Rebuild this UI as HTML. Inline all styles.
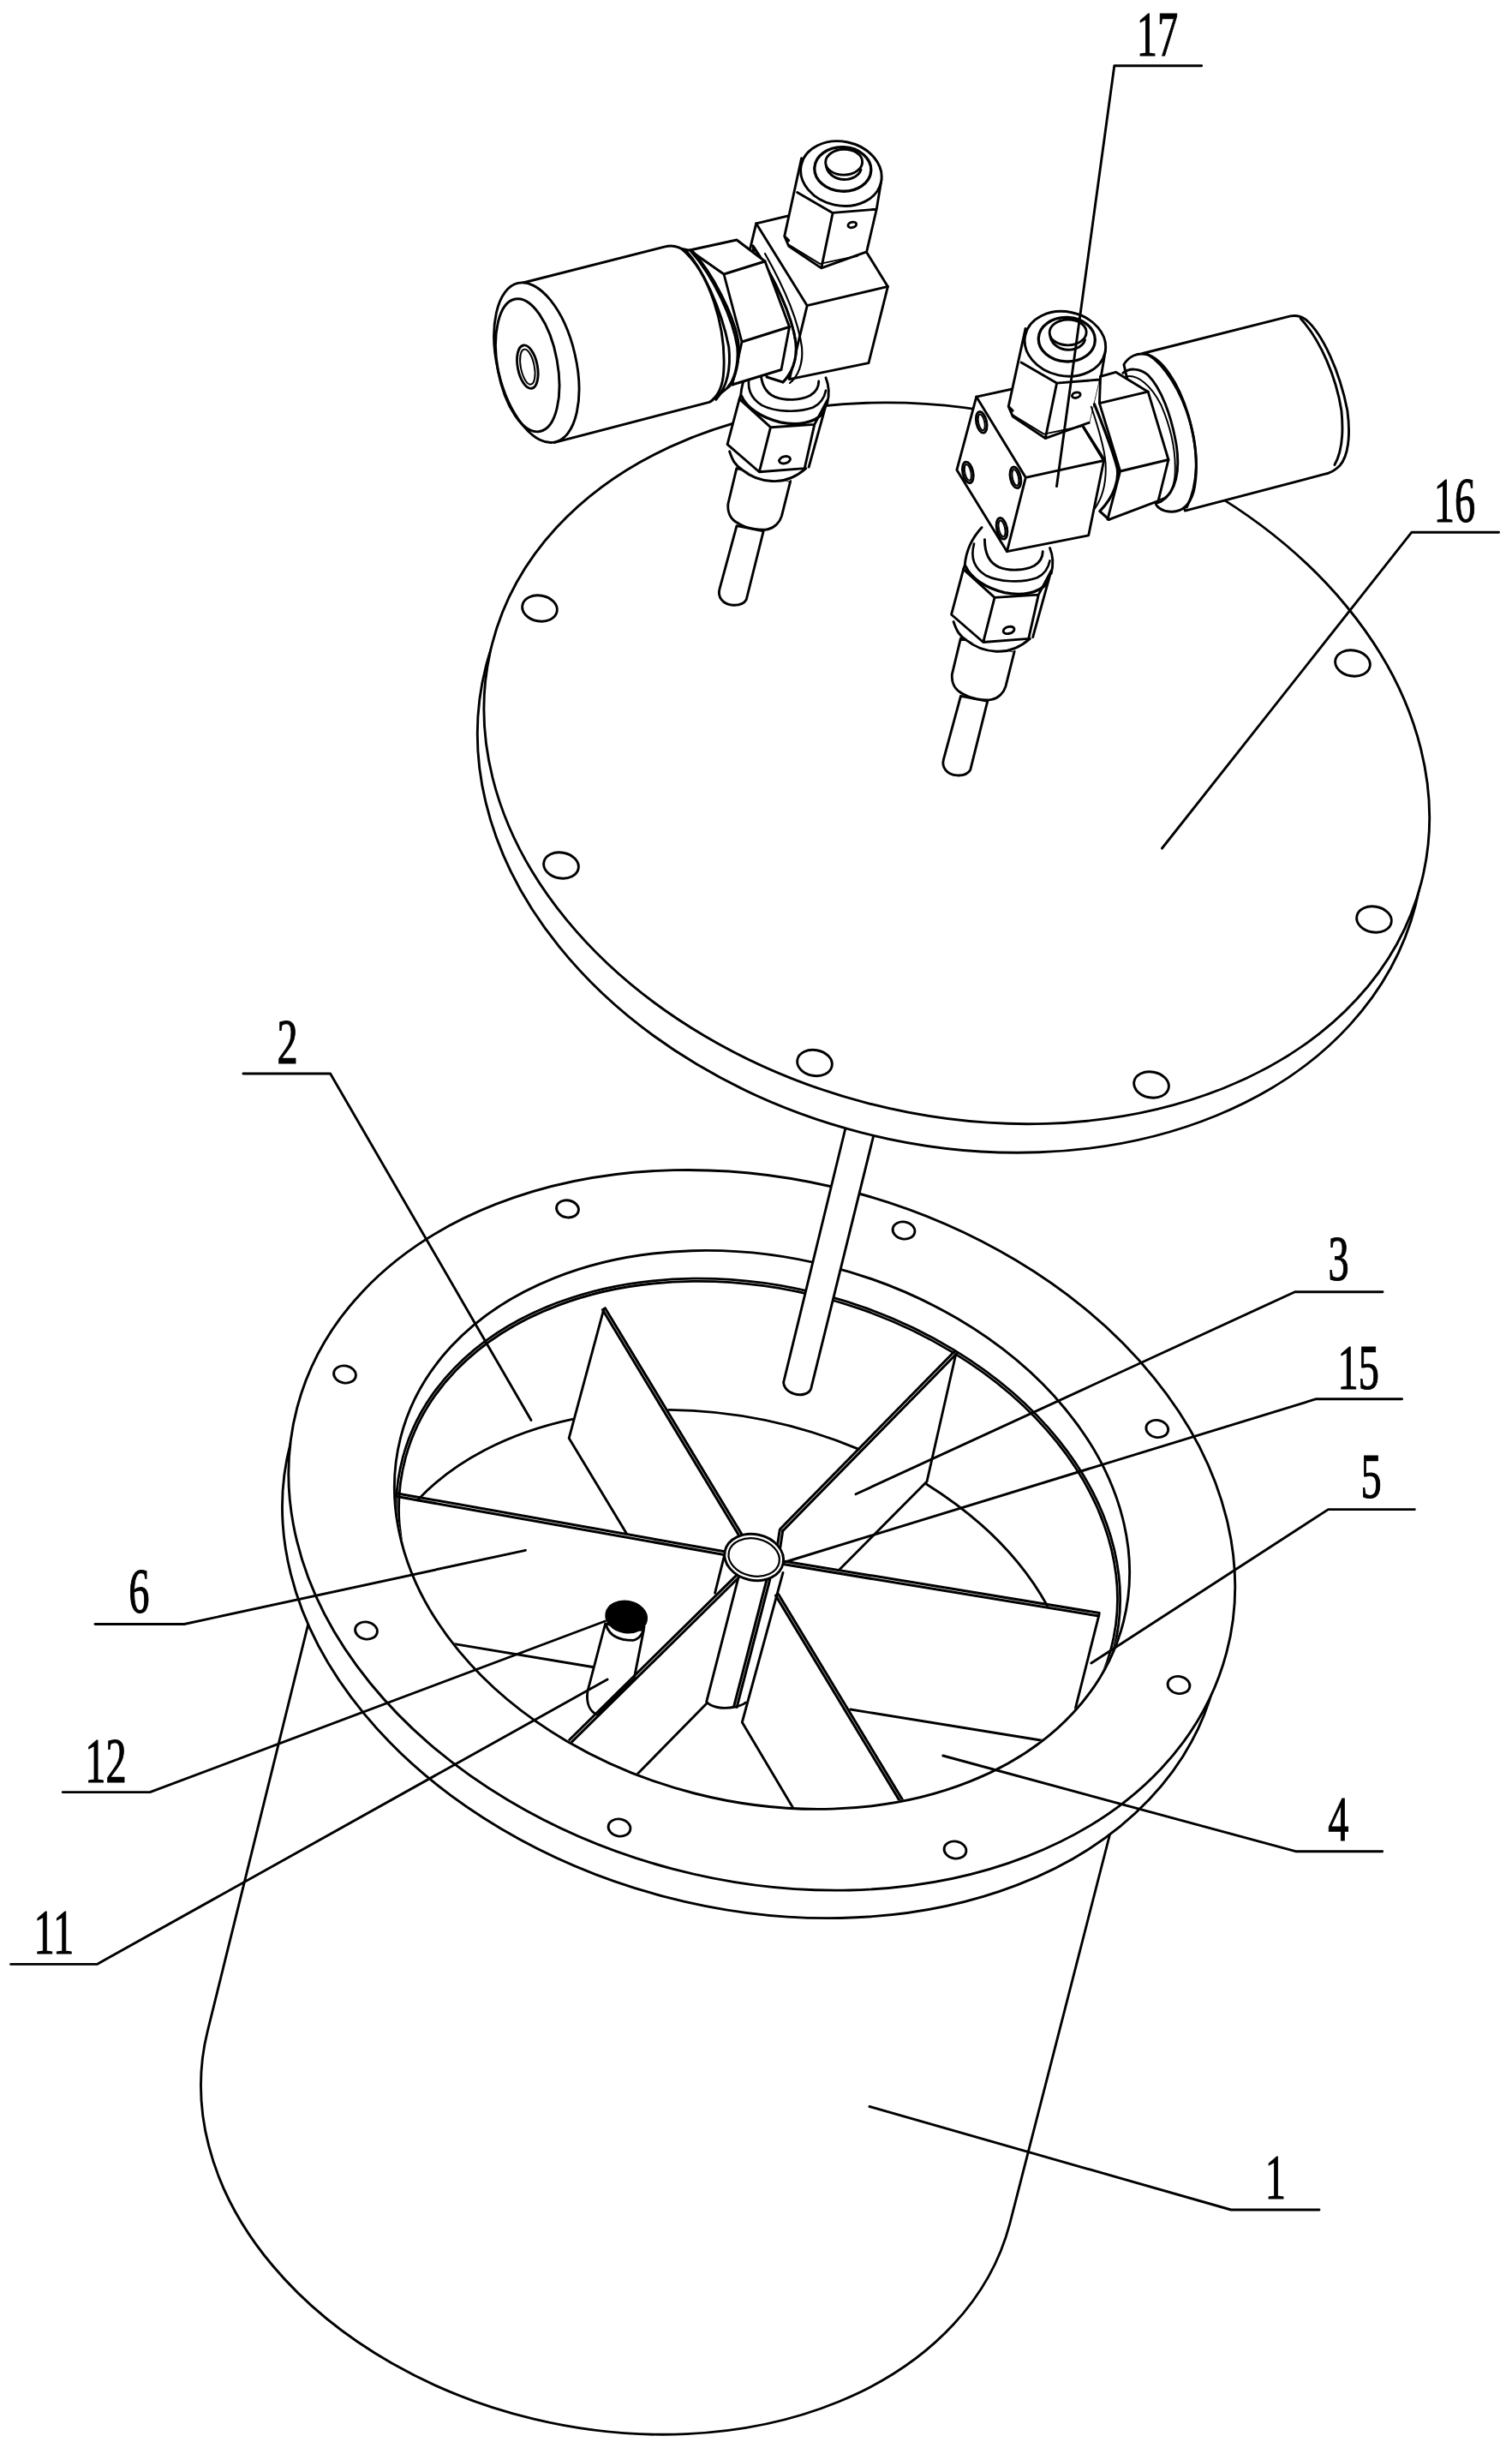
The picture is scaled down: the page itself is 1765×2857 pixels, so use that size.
<!DOCTYPE html>
<html><head><meta charset="utf-8"><style>
html,body{margin:0;padding:0;background:#fff;}
svg{display:block;}
text{font-family:"Liberation Serif",serif;font-size:73.3px;text-anchor:middle;fill:#000;stroke:#000;stroke-width:1.2px}
</style></head><body>
<svg width="1765" height="2857" viewBox="0 0 1765 2857">
<defs><clipPath id="clipOpen"><ellipse cx="889.5" cy="1785.4" rx="434" ry="316" transform="rotate(14.34 889.5 1785.4)"/></clipPath></defs>
<rect width="1765" height="2857" fill="#fff"/>
<g fill="none" stroke="#000" stroke-width="2.9" stroke-linejoin="round" stroke-linecap="round">
<path d="M371.0 1850.0 L242.3 2370.5 A481.6 352.8 12.47 0 0 1178.7 2595.5 L1311.2 2080.0 Z" fill="#fff"/>
<ellipse cx="877.9" cy="1825.9" rx="557.1" ry="400.8" transform="rotate(14.73 877.9 1825.9)" fill="#fff"/>
<ellipse cx="889.3" cy="1785.8" rx="561.0" ry="408.8" transform="rotate(14.76 889.3 1785.8)" fill="#fff"/>
<ellipse cx="889.5" cy="1785.4" rx="435.4" ry="317.5" transform="rotate(14.35 889.5 1785.4)" fill="#fff"/>
<ellipse cx="662.5" cy="1410.8" rx="13.0" ry="10.0" transform="rotate(10.00 662.5 1410.8)" />
<ellipse cx="1055.0" cy="1436.0" rx="13.0" ry="10.0" transform="rotate(10.00 1055.0 1436.0)" />
<ellipse cx="402.5" cy="1604.0" rx="13.0" ry="10.0" transform="rotate(10.00 402.5 1604.0)" />
<ellipse cx="1350.8" cy="1667.5" rx="13.0" ry="10.0" transform="rotate(10.00 1350.8 1667.5)" />
<ellipse cx="427.5" cy="1903.0" rx="13.0" ry="10.0" transform="rotate(10.00 427.5 1903.0)" />
<ellipse cx="1376.0" cy="1966.5" rx="13.0" ry="10.0" transform="rotate(10.00 1376.0 1966.5)" />
<ellipse cx="723.0" cy="2133.0" rx="13.0" ry="10.0" transform="rotate(10.00 723.0 2133.0)" />
<ellipse cx="1115.0" cy="2159.0" rx="13.0" ry="10.0" transform="rotate(10.00 1115.0 2159.0)" />
<g clip-path="url(#clipOpen)">
<ellipse cx="885.0" cy="1813.5" rx="429.8" ry="311.7" transform="rotate(15.34 885.0 1813.5)" stroke-width="2.8"/>
<ellipse cx="885.0" cy="1813.5" rx="426.6" ry="308.5" transform="rotate(15.34 885.0 1813.5)" stroke-width="2.8"/>
<path d="M487.4 1750.7 A419.4 291.8 13.05 0 1 668.0 1656.3"/>
<path d="M780.8 1645.4 A419.4 291.8 13.05 0 1 1002.6 1691.4"/>
<path d="M1081.3 1731.9 A419.4 291.8 13.05 0 1 1222.5 1873.9"/>
<path d="M704.9 1527.6 L664.2 1678.4 L731.8 1790.4 L846 1812.6 L866.3 1794.7 Z" fill="#fff" stroke="none"/>
<path d="M704.9 1527.6 L664.2 1678.4 L731.8 1790.4" />
<path d="M703.4 1528.5 L864.8 1795.6 M706.4 1526.7 L867.8 1793.8" stroke-width="3.0"/>
<path d="M912 1785.8 L1115.9 1578 L1082 1729 L980 1831.7 L916 1822 Z" fill="#fff" stroke="none"/>
<path d="M913.3 1787.1 L1117.2 1579.3 M910.7 1784.5 L1114.6 1576.7" stroke-width="3.0"/>
<path d="M1115.9 1580.0 L1082.0 1729.0 L980.0 1831.7" />
<path d="M910.2 1785.7 L906.2 1811.7 M913.8 1786.3 L909.8 1812.3" stroke-width="3.0"/>
<path d="M461.7 1746.3 L845.2 1814.4 M462.3 1742.7 L845.8 1810.8" stroke-width="3.0"/>
<path d="M915.7 1825.8 L1282.7 1886.1 M916.3 1822.2 L1283.3 1882.5" stroke-width="3.0"/>
<path d="M1283.0 1884.3 L1255.4 1993.6" />
<path d="M706.6 1895 L685.8 1974.3 C684 1990 690 1998 696.7 2001 L740 1960 L751.3 1902.9 Z" fill="#fff"/>
<path d="M707.6 1897 C712 1910 725 1914.5 739 1914.4 C746 1913 751 1906 752 1899"/>
<ellipse cx="731.2" cy="1887.0" rx="23.6" ry="17.9" transform="rotate(10.00 731.2 1887.0)" fill="#000"/>
<path d="M862.1 1836.1 L664.7 2030.5 M864.7 1838.7 L667.3 2033.1" stroke-width="3.0"/>
<path d="M905.5 1862.1 L1051.5 2103.9 M908.5 1860.3 L1054.5 2102.1" stroke-width="3.0"/>
<path d="M845.5 1815.6 L834.6 1859.2" />
<path d="M862.4 1839.4 L824.7 1986.2 C830 1993 845 1995 858.4 1992 C863 1991 868 1989 870.3 1987" />
<path d="M895.3 1842.5 L856.7 1991.5 M898.7 1843.5 L860.1 1992.5" stroke-width="3.0"/>
<path d="M824.7 1988.2 L743.0 2071.5" />
<path d="M914.0 1835.4 L866.3 2010.0 L925.3 2109.2" />
<path d="M992.7 1995.0 L1216.4 2031.3" />
<path d="M530.5 1918.6 L691.7 1945.5" />
<ellipse cx="880.2" cy="1817.5" rx="34.7" ry="26.8" transform="rotate(12.00 880.2 1817.5)" fill="#fff"/>
<ellipse cx="880.2" cy="1817.5" rx="30.0" ry="21.8" transform="rotate(12.00 880.2 1817.5)" stroke-width="2.2"/>
</g>
<path d="M991 1300 L915.3 1610.7 A15.5 11 14 0 0 946.7 1620.7 L1026 1300 Z" fill="#fff"/>
<ellipse cx="1109.8" cy="917.2" rx="560.2" ry="417.8" transform="rotate(14.42 1109.8 917.2)" fill="#fff"/>
<ellipse cx="1116.8" cy="890.8" rx="559.9" ry="410.1" transform="rotate(14.38 1116.8 890.8)" fill="#fff"/>
<ellipse cx="630.0" cy="710.0" rx="20.5" ry="15.0" transform="rotate(10.00 630.0 710.0)" />
<ellipse cx="655.0" cy="1010.0" rx="20.5" ry="15.0" transform="rotate(10.00 655.0 1010.0)" />
<ellipse cx="951.0" cy="1240.5" rx="20.5" ry="15.0" transform="rotate(10.00 951.0 1240.5)" />
<ellipse cx="1344.0" cy="1266.0" rx="20.5" ry="15.0" transform="rotate(10.00 1344.0 1266.0)" />
<ellipse cx="1604.0" cy="1073.0" rx="20.5" ry="15.0" transform="rotate(10.00 1604.0 1073.0)" />
<ellipse cx="1579.0" cy="774.0" rx="20.5" ry="15.0" transform="rotate(10.00 1579.0 774.0)" />
<g transform="translate(818.5 381.3) scale(0.165344)" stroke-width="17.54" >
<path d="M251 1405 L130 1851 C115 1905 150 1962 225 1965 C270 1967 305 1950 319 1926 L440 1442 Z" fill="#fff" />
<path d="M250 1000 L190 1250 C185 1300 200 1360 266 1390 C320 1425 420 1440 470 1430 C520 1420 555 1380 568 1337 L630 1090 Z" fill="#fff" />
<path d="M270 510 L185 830 L200 875 L260 990 L460 1090 L620 1090 L740 1000 L760 990 L890 520 L880 360 L400 215 L320 300 Z" fill="#fff" stroke="none"/>
<path d="M270 510 L185 830 L410 1025 L730 1000 M490 710 L410 1025 M800 690 L730 1000 M890 520 L760 990 M270 510 L490 710 L800 690 L890 520" />
<path d="M200 880 C220 940 240 980 290 1010 C350 1060 420 1085 500 1090 C580 1095 660 1070 740 1000" />
<ellipse cx="590" cy="940" rx="40" ry="24" transform="rotate(-15 590 940)"/>
<path d="M400 215 C340 280 290 360 280 480 L270 510" />
<path d="M880 360 C905 420 905 480 890 540" />
<path d="M420 300 C420 380 440 460 520 495 C600 525 700 520 770 485 C810 460 830 420 830 385" />
<path d="M345 330 C320 420 340 500 430 555 C520 600 680 610 790 570 C840 545 870 500 880 450" stroke-width="16" />
<path d="M285 490 C320 570 420 640 560 675 C680 700 800 680 860 610" stroke-width="20" />
</g>
<path d="M882.7 260.8 L976.9 238.5 L1036.4 334.4 L1014 423.6 L921.5 442.6 L862 346.7 Z" fill="#fff" />
<path d="M882.7 260.8 L942.2 356.7 L1036.4 334.4 M942.2 356.7 L921.5 442.6" />
<g transform="translate(800 150) scale(0.165344)" stroke-width="17.54" >
<path d="M820 210 L700 760 L730 830 L960 985 L1220 910 L1280 870 L1350 570 L1385 400 L1385 320 L1340 220 L1250 140 L1050 95 L900 130 Z" fill="#fff" stroke="none"/>
<path d="M820 210 L700 760 L730 830 L960 985 L1280 870 L1350 570 M960 985 L1040 600 M700 760 L730 790 M790 450 L1040 595 L1345 570 M1385 360 L1350 570" />
<path d="M730 820 L950 955 L1215 900" stroke-width="12" />
<ellipse cx="1178" cy="680" rx="30" ry="19" transform="rotate(-15 1178 680)"/>
<ellipse cx="1100" cy="318" rx="288" ry="226" transform="rotate(12 1100 318)" fill="#fff"/>
<ellipse cx="1111.6" cy="287" rx="199.7" ry="156" transform="rotate(2.8 1111.6 287)" stroke-width="20"/>
<ellipse cx="1119.8" cy="237" rx="130" ry="90.4" transform="rotate(-1.4 1119.8 237)"/>
<path d="M995 270 C1010 330 1070 360 1120 360 C1180 360 1230 330 1240 290" />
</g>
<path d="M879 287 C905 325 925 370 929 400 C931 420 924 436 914 446 L895 440 L880 300 Z" fill="#fff" />
<path d="M879 287 C905 325 925 370 929 400 C931 420 924 436 914 446" />
<path d="M893 296 C915 335 932 375 936 405 C938 425 931 440 922 447" stroke-width="2.2" />
<path d="M805 292 L860 280 L893 305 L921.5 381.5 L912 431.5 L854.8 449 L820 400 Z" fill="#fff" />
<path d="M805 292 L845 320 L893 305 M845 320 L866 399 L921.5 381.5 M866 399 L854.8 449" />
<g transform="translate(570 270) scale(0.198413)" stroke-width="14.62" >
<path d="M1130 100 L1200 115 C1320 250 1440 480 1470 640 C1485 760 1450 870 1420 910 L1310 1000 Z" fill="#fff" />
<path d="M1160 110 C1260 220 1370 450 1415 680 C1430 820 1400 920 1340 990" />
<path d="M1190 115 C1330 270 1440 520 1465 680 C1475 800 1440 880 1410 915" />
<path d="M175 310 L1040 90 C1080 80 1120 90 1140 105 C1300 240 1400 560 1385 820 C1380 920 1350 975 1300 1005 L390 1242 Z" fill="#fff" />
<ellipse cx="283.8" cy="772" rx="231" ry="480" transform="rotate(-13.2 283.8 772)" fill="#fff"/>
<ellipse cx="230.6" cy="787.7" rx="176" ry="396" transform="rotate(-10.5 230.6 787.7)"/>
<ellipse cx="231" cy="797" rx="58" ry="129" transform="rotate(-11 231 797)"/>
<ellipse cx="231" cy="797" rx="40" ry="105" transform="rotate(-11 231 797)" stroke-width="10"/>
</g>
<g transform="translate(1080 580) scale(0.165344)" stroke-width="17.54" >
<path d="M251 1405 L130 1851 C115 1905 150 1962 225 1965 C270 1967 305 1950 319 1926 L440 1442 Z" fill="#fff" />
<path d="M250 1000 L190 1250 C185 1300 200 1360 266 1390 C320 1425 420 1440 470 1430 C520 1420 555 1380 568 1337 L630 1090 Z" fill="#fff" />
<path d="M270 510 L185 830 L200 875 L260 990 L460 1090 L620 1090 L740 1000 L760 990 L890 520 L880 360 L400 215 L320 300 Z" fill="#fff" stroke="none"/>
<path d="M270 510 L185 830 L410 1025 L730 1000 M490 710 L410 1025 M800 690 L730 1000 M890 520 L760 990 M270 510 L490 710 L800 690 L890 520" />
<path d="M200 880 C220 940 240 980 290 1010 C350 1060 420 1085 500 1090 C580 1095 660 1070 740 1000" />
<ellipse cx="590" cy="940" rx="40" ry="24" transform="rotate(-15 590 940)"/>
<path d="M400 215 C340 280 290 360 280 480 L270 510" />
<path d="M880 360 C905 420 905 480 890 540" />
<path d="M420 300 C420 380 440 460 520 495 C600 525 700 520 770 485 C810 460 830 420 830 385" />
<path d="M345 330 C320 420 340 500 430 555 C520 600 680 610 790 570 C840 545 870 500 880 450" stroke-width="16" />
<path d="M285 490 C320 570 420 640 560 675 C680 700 800 680 860 610" stroke-width="20" />
</g>
<g transform="translate(1110 350) scale(0.198413)" stroke-width="14.62" >
<path d="M150 570 L610 470 L900 945 L810 1385 L330 1480 L35 1000 Z" fill="#fff" />
<path d="M150 570 L440 1045 L900 945 M440 1045 L330 1480" />
<ellipse cx="180" cy="720" rx="30" ry="63" transform="rotate(-12 180 720)"/>
<ellipse cx="180" cy="720" rx="18" ry="48" transform="rotate(-12 180 720)" stroke-width="10"/>
<ellipse cx="100" cy="1015" rx="30" ry="63" transform="rotate(-12 100 1015)"/>
<ellipse cx="100" cy="1015" rx="18" ry="48" transform="rotate(-12 100 1015)" stroke-width="10"/>
<ellipse cx="380" cy="1045" rx="30" ry="63" transform="rotate(-12 380 1045)"/>
<ellipse cx="380" cy="1045" rx="18" ry="48" transform="rotate(-12 380 1045)" stroke-width="10"/>
<ellipse cx="300" cy="1345" rx="30" ry="63" transform="rotate(-12 300 1345)"/>
<ellipse cx="300" cy="1345" rx="18" ry="48" transform="rotate(-12 300 1345)" stroke-width="10"/>
<path d="M610 470 L900 945 L960 900 L900 700 L870 470 Z" fill="#fff" stroke="none"/>
<path d="M610 470 L900 945" />
</g>
<g transform="translate(1061.5 348.7) scale(0.165344)" stroke-width="17.54" >
<path d="M820 210 L700 760 L730 830 L960 985 L1220 910 L1280 870 L1350 570 L1385 400 L1385 320 L1340 220 L1250 140 L1050 95 L900 130 Z" fill="#fff" stroke="none"/>
<path d="M820 210 L700 760 L730 830 L960 985 L1280 870 L1350 570 M960 985 L1040 600 M700 760 L730 790 M790 450 L1040 595 L1345 570 M1385 360 L1350 570" />
<path d="M730 820 L950 955 L1215 900" stroke-width="12" />
<ellipse cx="1178" cy="680" rx="30" ry="19" transform="rotate(-15 1178 680)"/>
<ellipse cx="1100" cy="318" rx="288" ry="226" transform="rotate(12 1100 318)" fill="#fff"/>
<ellipse cx="1111.6" cy="287" rx="199.7" ry="156" transform="rotate(2.8 1111.6 287)" stroke-width="20"/>
<ellipse cx="1119.8" cy="237" rx="130" ry="90.4" transform="rotate(-1.4 1119.8 237)"/>
<path d="M995 270 C1010 330 1070 360 1120 360 C1180 360 1230 330 1240 290" />
</g>
<g transform="translate(1300 350) scale(0.198413)" stroke-width="14.62" >
<path d="M170 315 L1040 95 C1080 88 1110 100 1130 115 C1230 200 1330 420 1375 650 C1395 800 1380 920 1330 975 C1300 1005 1270 1020 1240 1025 L420 1240 Z" fill="#fff" />
<path d="M1100 110 C1220 240 1310 460 1340 650 C1355 800 1340 900 1300 970" />
<path d="M60 380 C90 330 140 310 190 320 C280 340 380 480 440 680 C490 860 500 1000 470 1130 C440 1230 380 1260 300 1240 C270 1230 250 1215 245 1190 Z" fill="#fff" />
<path d="M200 320 C300 380 400 540 450 720 C500 900 500 1080 430 1220" />
<path d="M55 430 C90 400 150 400 200 440 C280 520 340 680 370 860 C390 1000 370 1130 280 1185 C260 1195 250 1195 245 1190" />
<path d="M80 450 C140 440 220 500 280 620 C340 760 370 900 360 1040 C350 1130 310 1170 265 1175" stroke-width="10" />
</g>
<g transform="translate(1110 350) scale(0.198413)" stroke-width="14.62" >
<path d="M877 469 L818 719 L900 945 L951 880 L887 720 L844 613 Z" fill="#fff" stroke="none"/>
<path d="M844 613 C887 720 951 880 978 987 C990 1050 967 1150 876 1243 L930 1292 L1220 1182 L1280 940 L1160 540 L970 425 L880 450 Z" fill="#fff" stroke="none"/>
<path d="M775 740 L903 940" />
<path d="M844 613 C887 720 951 880 978 987 C990 1050 967 1150 876 1243 L930 1292" stroke-width="16" />
<path d="M826 629 C870 760 905 880 910 960 C915 1050 900 1150 848 1226" stroke-width="10" />
<path d="M880 450 L970 425 L1160 540 L1280 940 L1220 1182 L930 1292" />
<path d="M874 608 L1160 540 M874 608 L996 1008 L922 1291 M996 1008 L1280 940 M880 450 L874 608" />
</g>
<path d="M1402.7 76.7 L1300.8 76.7 L1233.5 567.5" />
<path d="M1749.6 621.2 L1647.9 621.2 L1356.5 990.0" />
<path d="M283.9 1253.0 L385.6 1253.0 L620.0 1657.5" />
<path d="M1614.0 1507.7 L1511.6 1507.7 L999.0 1743.8" />
<path d="M1636.6 1632.7 L1536.5 1632.7 L916.5 1823.0" />
<path d="M1651.4 1761.6 L1550.5 1761.6 L1273.8 1941.0" />
<path d="M111.0 1895.5 L215.0 1895.5 L613.4 1809.3" />
<path d="M73.2 2091.6 L175.0 2091.6 L706.4 1892.0" />
<path d="M12.6 2292.4 L113.2 2292.4 L709.0 1960.0" />
<path d="M1613.7 2160.7 L1512.4 2160.7 L1100.8 2049.0" />
<path d="M1540.0 2579.0 L1437.0 2579.0 L1015.0 2458.5" />
</g>
<text transform="translate(1351 64.8) scale(0.66 1)" x="0" y="0">17</text><text transform="translate(1698 609) scale(0.66 1)" x="0" y="0">16</text><text transform="translate(335.5 1240.5) scale(0.66 1)" x="0" y="0">2</text><text transform="translate(1562.5 1494) scale(0.66 1)" x="0" y="0">3</text><text transform="translate(1585.7 1621) scale(0.66 1)" x="0" y="0">15</text><text transform="translate(1600.5 1748) scale(0.66 1)" x="0" y="0">5</text><text transform="translate(162.3 1882) scale(0.66 1)" x="0" y="0">6</text><text transform="translate(123.5 2079.7) scale(0.66 1)" x="0" y="0">12</text><text transform="translate(62.9 2279.8) scale(0.66 1)" x="0" y="0">11</text><text transform="translate(1562.3 2148) scale(0.66 1)" x="0" y="0">4</text><text transform="translate(1488.8 2566.4) scale(0.66 1)" x="0" y="0">1</text>
</svg></body></html>
